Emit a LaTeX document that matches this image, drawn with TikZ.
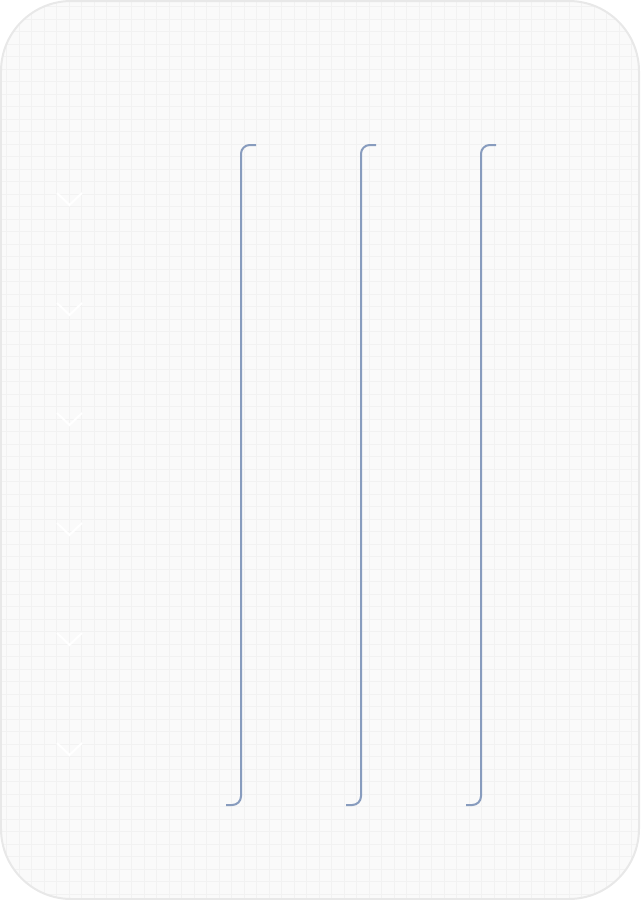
\documentclass[tikz,border=0pt]{standalone}
\usepackage{xcolor}
\usepackage{tikz}
\definecolor{sfondo}{RGB}{250,250,250}
\definecolor{griglia}{RGB}{242,242,242}
\definecolor{bordo}{RGB}{232,232,232}
\definecolor{parentesi}{RGB}{136,156,190}

\begin{document}
\begin{tikzpicture}[x=0.02cm, y=-0.02cm]
    \useasboundingbox (0,0) rectangle (640,900);

    % Sfondo con griglia
    \fill[sfondo, rounded corners=40] (1,1) rectangle (639,899);
    \begin{scope}
        \clip[rounded corners=40] (1,1) rectangle (639,899);
        \foreach \k in {0,...,50}
            \draw[griglia, line width=0.02cm] ({6.5+12.5*\k},0) -- ({6.5+12.5*\k},900);
        \foreach \k in {0,...,71}
            \draw[griglia, line width=0.02cm] (0,{6.5+12.5*\k}) -- (640,{6.5+12.5*\k});
    \end{scope}
    \draw[bordo, line width=0.04cm, rounded corners=40] (1,1) rectangle (639,899);

    % Frecce bianche a sinistra
    \foreach \y in {205,315,425,535,645,755}
        \draw[white, line width=0.04cm] (57,\y-12) -- (69.5,\y) -- (82,\y-12);

    % Parentesi verticali
    \foreach \x in {241,361,481} {
        \coordinate (alto) at (\x+15,145);
        \coordinate (basso) at (\x-15,805);
        \draw[parentesi, line width=0.04cm, rounded corners=5]
            (alto) -- (\x,145) -- (\x,805) -- (basso);
    }
\end{tikzpicture}
\end{document}
